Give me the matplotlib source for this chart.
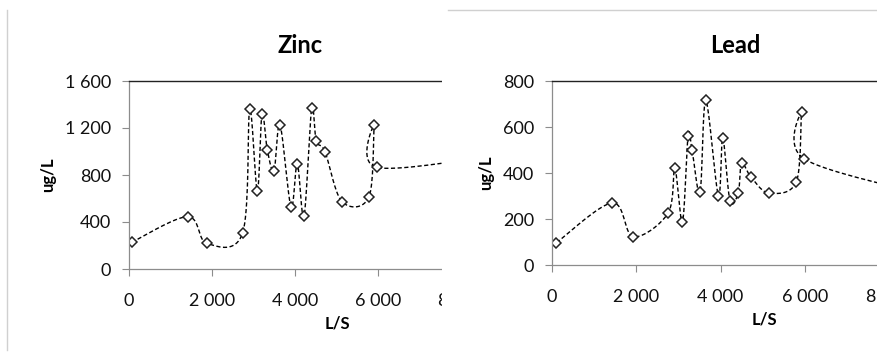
import numpy as np
import matplotlib
matplotlib.use("Agg")
import matplotlib.pyplot as plt
from matplotlib.patches import Rectangle
from matplotlib.lines import Line2D
from matplotlib.ticker import FuncFormatter

plt.rcParams['font.family'] = ['Lato', 'DejaVu Sans']

# Zinc (ug/L) vs L/S
zinc_x = [65, 1414, 1872, 2740, 2908, 3092, 3205, 3333, 3494, 3639, 3904, 4055,
          4217, 4402, 4514, 4723, 5133, 5783, 5911, 5968]
zinc_y = [227, 445, 219, 309, 1359, 666, 1322, 1013, 837, 1228, 528, 896,
          448, 1367, 1089, 998, 573, 615, 1228, 865]
zinc_tail = (9000, 975)   # next point, off the visible area

# Lead (ug/L) vs L/S
lead_x = [106, 1432, 1929, 2757, 2915, 3096, 3231, 3325, 3515, 3650, 3950, 4053,
          4225, 4422, 4501, 4722, 5148, 5800, 5925, 5980]
lead_y = [97, 270, 123, 226, 420, 185, 562, 499, 316, 716, 301, 552,
          280, 314, 442, 383, 313, 362, 664, 462]
lead_tail = (9000, 300)

W, H = 877, 356


def smooth(xs, ys, n=20):
    # excel-like smoothed line: catmull-rom as cubic bezier
    p = np.column_stack([xs, ys]).astype(float)
    ext = np.vstack([p[0], p, p[-1]])
    out = [p[0]]
    t = np.linspace(0, 1, n)[1:, None]
    for i in range(1, len(ext) - 2):
        p0, p1, p2, p3 = ext[i - 1], ext[i], ext[i + 1], ext[i + 2]
        c1 = p1 + (p2 - p0) / 6
        c2 = p2 - (p3 - p1) / 6
        seg = ((1 - t) ** 3) * p1 + 3 * ((1 - t) ** 2) * t * c1 + 3 * (1 - t) * t ** 2 * c2 + t ** 3 * p2
        out.extend(seg)
    out = np.array(out)
    return out[:, 0], out[:, 1]


def space_fmt(v, pos):
    return f"{int(v):,}".replace(",", " ")


def panel(rect, xs, ys, tail, ymax, ystep, title, z):
    l, b, w, h = rect
    ax = fig.add_axes([l / W, b / H, w / W, h / H], zorder=z)
    ax.set_facecolor('white')
    sx, sy = smooth(list(xs) + [tail[0]], list(ys) + [tail[1]])
    ax.plot(sx, sy, color='black', lw=1.0, linestyle=(0, (3, 1.8)), clip_on=True)
    ax.plot(xs, ys, linestyle='none', marker='D', markersize=5.5,
            markerfacecolor='white', markeredgecolor='#222222', markeredgewidth=1.1)
    ax.set_xlim(0, 8000)
    ax.set_ylim(0, ymax)
    ax.set_xticks([0, 2000, 4000, 6000, 8000])
    ax.set_yticks(np.arange(0, ymax + 1, ystep))
    ax.xaxis.set_major_formatter(FuncFormatter(space_fmt))
    ax.yaxis.set_major_formatter(FuncFormatter(space_fmt))
    ax.tick_params(axis='both', direction='out', length=5, width=0.8, color='#8c8c8c',
                   labelsize=13, labelcolor='#111111')
    ax.tick_params(axis='x', pad=12)
    ax.tick_params(axis='y', pad=8)
    for s in ['left', 'bottom']:
        ax.spines[s].set_color('#8c8c8c')
        ax.spines[s].set_linewidth(0.9)
    ax.spines['top'].set_color('#222222')
    ax.spines['top'].set_linewidth(1.0)
    ax.spines['right'].set_visible(False)
    ax.set_title(title, fontsize=17, fontweight='bold', pad=20)
    ax.set_xlabel('L/S', fontsize=12, fontweight='bold', labelpad=5)
    ax.set_ylabel('ug/L', fontsize=12, fontweight='bold', labelpad=6)
    return ax


fig = plt.figure(figsize=(W / 100, H / 100), dpi=100)
fig.patch.set_facecolor('white')

ax1 = panel((129, 87, 332, 188), zinc_x, zinc_y, zinc_tail, 1600, 400, 'Zinc', 0)
ax1.title.set_x(171 / 332)
ax1.xaxis.label.set_x(208 / 332)

# right chart covers the cut-off edge of the left one
fig.add_artist(Rectangle((442 / W, 0), 1 - 442 / W, 1, transform=fig.transFigure,
                         facecolor='white', edgecolor='none', zorder=1))
ax2 = panel((552, 91, 337, 184), lead_x, lead_y, lead_tail, 800, 200, 'Lead', 2)
ax2.title.set_x(183 / 337)
ax2.xaxis.label.set_x(212 / 337)

# chart borders from the screenshot
fig.add_artist(Line2D([7 / W, 7 / W], [6 / H, 346 / H], transform=fig.transFigure,
                      color='#d0d0d0', lw=1.0, zorder=3))
fig.add_artist(Line2D([448 / W, 1], [1 - 10 / H, 1 - 10 / H], transform=fig.transFigure,
                      color='#d0d0d0', lw=1.0, zorder=3))

fig.savefig('out.png', dpi=100, facecolor='white')
